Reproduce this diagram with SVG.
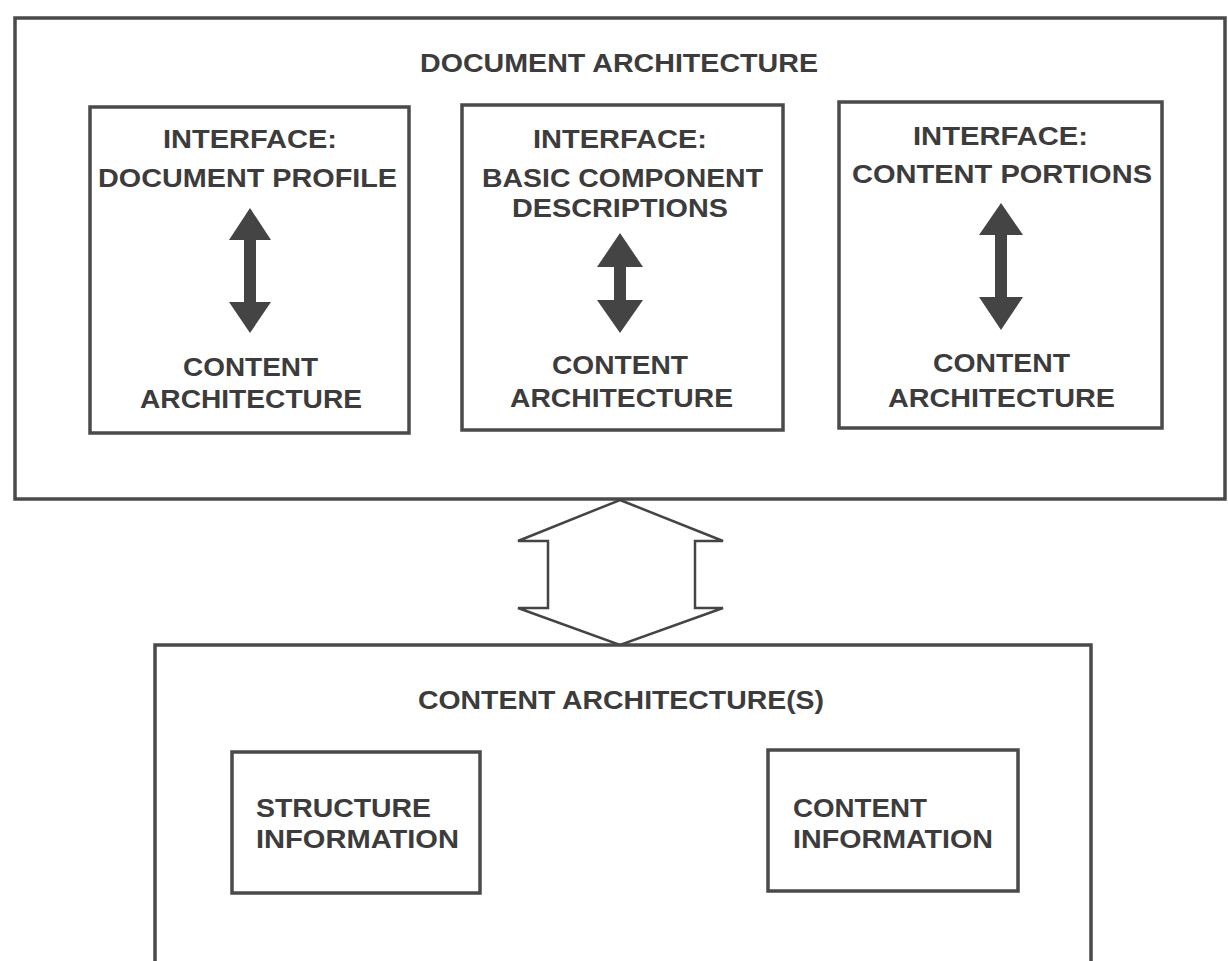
<svg xmlns="http://www.w3.org/2000/svg" width="1228" height="961" viewBox="0 0 1228 961">
<style>
.box{fill:none;stroke:#4a4a4a;stroke-width:3.5}
.t{font-family:"Liberation Sans",Arial,sans-serif;font-weight:bold;font-size:26px;fill:#3c3c3c;text-anchor:start}
.arr{fill:#444;stroke:none}
.hollow{fill:#fff;stroke:#444;stroke-width:2.5;stroke-linejoin:miter}
</style>
<rect width="1228" height="961" fill="#fff"/>
<g id="document-architecture">
<rect class="box" x="15" y="18" width="1210" height="481"/>
<text class="t" x="420" y="72" textLength="398" lengthAdjust="spacingAndGlyphs">DOCUMENT ARCHITECTURE</text>
</g>
<g id="interface-document-profile">
<rect class="box" x="90" y="107" width="319" height="326"/>
<text class="t" x="163" y="148" textLength="174" lengthAdjust="spacingAndGlyphs">INTERFACE:</text>
<text class="t" x="98" y="187" textLength="299" lengthAdjust="spacingAndGlyphs">DOCUMENT PROFILE</text>
<path class="arr" d="M250,208 L271,240 L256,240 L256,302 L271,302 L250,333 L229,302 L244,302 L244,240 L229,240 Z"/>
<text class="t" x="183" y="376" textLength="135" lengthAdjust="spacingAndGlyphs">CONTENT</text>
<text class="t" x="140" y="408" textLength="222" lengthAdjust="spacingAndGlyphs">ARCHITECTURE</text>
</g>
<g id="interface-basic-component">
<rect class="box" x="462" y="105" width="321" height="325"/>
<text class="t" x="533" y="148" textLength="174" lengthAdjust="spacingAndGlyphs">INTERFACE:</text>
<text class="t" x="482" y="187" textLength="281" lengthAdjust="spacingAndGlyphs">BASIC COMPONENT</text>
<text class="t" x="512" y="217" textLength="216" lengthAdjust="spacingAndGlyphs">DESCRIPTIONS</text>
<path class="arr" d="M620,233 L643,267 L626,267 L626,300 L643,300 L620,333 L597,300 L614,300 L614,267 L597,267 Z"/>
<text class="t" x="552" y="374" textLength="136" lengthAdjust="spacingAndGlyphs">CONTENT</text>
<text class="t" x="510" y="407" textLength="223" lengthAdjust="spacingAndGlyphs">ARCHITECTURE</text>
</g>
<g id="interface-content-portions">
<rect class="box" x="839" y="102" width="323" height="326"/>
<text class="t" x="913" y="145" textLength="175" lengthAdjust="spacingAndGlyphs">INTERFACE:</text>
<text class="t" x="852" y="183" textLength="300" lengthAdjust="spacingAndGlyphs">CONTENT PORTIONS</text>
<path class="arr" d="M1001,203 L1023,235 L1007,235 L1007,297 L1023,297 L1001,330 L979,297 L995,297 L995,235 L979,235 Z"/>
<text class="t" x="933" y="372" textLength="137" lengthAdjust="spacingAndGlyphs">CONTENT</text>
<text class="t" x="888" y="407" textLength="227" lengthAdjust="spacingAndGlyphs">ARCHITECTURE</text>
</g>
<g id="connectors">
<path class="hollow" d="M620,500 L723,541 L695,541 L695,608 L723,608 L620,645 L518,608 L548,608 L548,541 L518,541 Z"/>
</g>
<g id="content-architectures">
<rect class="box" x="155" y="645" width="936" height="340"/>
<text class="t" x="418" y="709" textLength="406" lengthAdjust="spacingAndGlyphs">CONTENT ARCHITECTURE(S)</text>
</g>
<g id="structure-information">
<rect class="box" x="232" y="752" width="248" height="141"/>
<text class="t" x="256" y="817" textLength="175" lengthAdjust="spacingAndGlyphs">STRUCTURE</text>
<text class="t" x="256" y="848" textLength="203" lengthAdjust="spacingAndGlyphs">INFORMATION</text>
</g>
<g id="content-information">
<rect class="box" x="768" y="750" width="250" height="141"/>
<text class="t" x="793" y="817" textLength="134" lengthAdjust="spacingAndGlyphs">CONTENT</text>
<text class="t" x="793" y="848" textLength="200" lengthAdjust="spacingAndGlyphs">INFORMATION</text>
</g>
</svg>
